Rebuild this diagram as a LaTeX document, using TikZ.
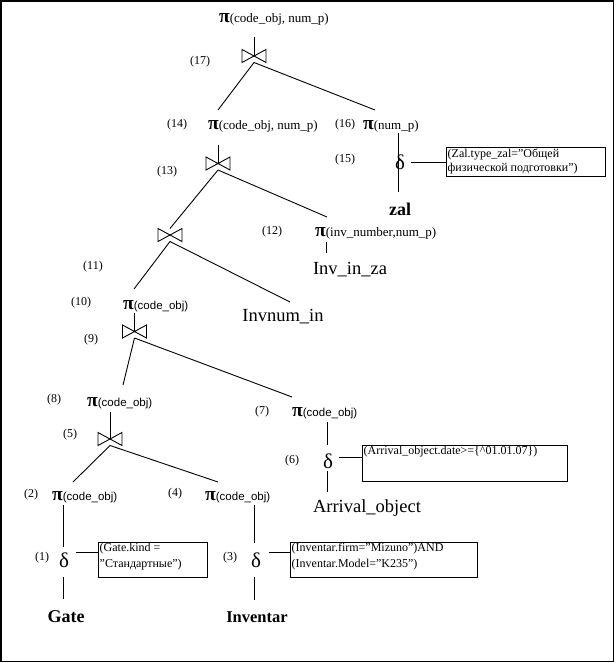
\documentclass[tikz,border=0pt]{standalone}
\usepackage{fontspec}
\setmainfont{Liberation Serif}
\newfontfamily\sansf{Liberation Sans}
\newcommand\pis{{\bfseries\fontsize{19.5}{19.5}\selectfont π}}
\newcommand\sarg[1]{{\fontsize{13}{15}\selectfont #1}}
\newcommand\sfarg[1]{{\sansf\fontsize{11.5}{14}\selectfont #1}}
\tikzset{
  ln/.style={line width=0.9pt},
  num/.style={font=\fontsize{12}{14}\selectfont, inner sep=0pt},
  pin/.style={anchor=west, inner sep=0pt},
  rel/.style={font=\fontsize{18.5}{20}\selectfont, inner sep=0pt},
  relb/.style={font=\bfseries\fontsize{18}{20}\selectfont, inner sep=0pt},
  dl/.style={font=\fontsize{21}{22}\selectfont, inner sep=0pt},
  bt/.style={minimum width=24pt, minimum height=13pt, inner sep=0pt, outer sep=0pt},
  cbox/.style={draw, line width=0.9pt, anchor=north west, inner sep=0pt, outer sep=0pt},
  ctext/.style={anchor=north west, inner sep=0pt, align=left, font=\fontsize{12}{15.5}\selectfont}
}
\begin{document}
\begin{tikzpicture}[x=1pt,y=-1pt]
\useasboundingbox (0,0) rectangle (615,663);
\draw[line width=1.6pt] (1,1) rectangle (613.5,661.5);

% projection nodes
\node[pin] (P17) at (219,19) {\pis\sarg{(code\_obj, num\_p)}};
\node[pin] (P14) at (208,126) {\pis\sarg{(code\_obj, num\_p)}};
\node[pin] (P16) at (363,126) {\pis\sarg{(num\_p)}};
\node[pin] (P12) at (315,233) {\pis\sarg{(inv\_number,num\_p)}};
\node[pin] (P10) at (123,306) {\pis\sfarg{(code\_obj)}};
\node[pin] (P8) at (87,403) {\pis\sfarg{(code\_obj)}};
\node[pin] (P7) at (292,413) {\pis\sfarg{(code\_obj)}};
\node[pin] (P2) at (52,497) {\pis\sfarg{(code\_obj)}};
\node[pin] (P4) at (205,497) {\pis\sfarg{(code\_obj)}};

% step numbers
\node[num] (L17) at (200,62) {(17)};
\node[num] (L14) at (177,125) {(14)};
\node[num] (L16) at (345,125) {(16)};
\node[num] (L13) at (167,172) {(13)};
\node[num] (L15) at (345,160) {(15)};
\node[num] (L12) at (272,232) {(12)};
\node[num] (L11) at (93,267) {(11)};
\node[num] (L10) at (81,303) {(10)};
\node[num] (L9) at (91,340) {(9)};
\node[num] (L8) at (54,400) {(8)};
\node[num] (L7) at (262,412) {(7)};
\node[num] (L5) at (70,435) {(5)};
\node[num] (L6) at (292,461) {(6)};
\node[num] (L2) at (31,495) {(2)};
\node[num] (L4) at (175,494) {(4)};
\node[num] (L1) at (42,558) {(1)};
\node[num] (L3) at (230,558) {(3)};

% joins
\node[bt] (B17) at (254,56) {};
\node[bt] (B13) at (218,163.5) {};
\node[bt] (B11) at (170,235) {};
\node[bt] (B9) at (134.5,331.5) {};
\node[bt] (B5) at (110,439) {};
\foreach \b in {B17,B13,B11,B9,B5}
  \draw[ln] (\b.north west) -- (\b.south west) -- (\b.north east) -- (\b.south east) -- cycle;

% selections
\node[dl] (D15) at (400,162) {δ};
\node[dl] (D6) at (328,461) {δ};
\node[dl] (D1) at (64,560) {δ};
\node[dl] (D3) at (256,560) {δ};

% relations
\node[relb] (Rzal) at (400,209) {zal};
\node[rel] (Rinvza) at (350,270) {Inv\_in\_za};
\node[rel] (Rinvnum) at (283,317) {Invnum\_in};
\node[rel] (Rarr) at (367,508) {Arrival\_object};
\node[relb] (Rgate) at (66,617) {Gate};
\node[relb, font=\bfseries\fontsize{16.5}{20}\selectfont] (Rinv) at (257,617) {Inventar};

% condition boxes
\node[cbox, minimum width=159pt, minimum height=29pt] (C15) at (446,147) {};
\node[ctext, font=\fontsize{12}{14}\selectfont] (T15) at (447.5,148.5) {(Zal.type\_zal=”Общей\\физической подготовки”)};
\node[cbox, minimum width=205pt, minimum height=36pt] (C6) at (362,445) {};
\node[ctext] (T6) at (363.5,446) {(Arrival\_object.date>=\{\textasciicircum01.01.07\})};
\node[cbox, minimum width=109pt, minimum height=35pt] (C1) at (98,542) {};
\node[ctext] (T1) at (99.5,543) {(Gate.kind =\\”Стандартные”)};
\node[cbox, minimum width=187pt, minimum height=35pt] (C3) at (290,542) {};
\node[ctext] (T3) at (291.5,543) {(Inventar.firm=”Mizuno”)AND\\(Inventar.Model=”K235”)};

% connector end points
\coordinate (a17) at (254,37);
\coordinate (e14) at (218,110);
\coordinate (e16) at (375,110);
\coordinate (a14) at (218,145);
\coordinate (e12) at (327,217);
\coordinate (e10) at (134,289);
\coordinate (e11) at (290,302);
\coordinate (a10) at (134.5,313);
\coordinate (e8) at (123,385);
\coordinate (e7) at (292,397);
\coordinate (a8) at (110,412);
\coordinate (e2) at (73,482);
\coordinate (e4) at (218,482);
\coordinate (a16) at (398,133);
\coordinate (b16) at (398,192);
\coordinate (s15) at (411,162);
\coordinate (a12) at (326,242);
\coordinate (b12) at (326,253);
\coordinate (a7) at (327,422);
\coordinate (b7) at (327,445);
\coordinate (c6) at (327,471);
\coordinate (d6) at (327,492);
\coordinate (s6) at (339,457);
\coordinate (a2) at (63,505);
\coordinate (b2) at (63,547);
\coordinate (c1) at (63,577);
\coordinate (d1) at (63,599);
\coordinate (s1) at (76,552);
\coordinate (a4) at (254,505);
\coordinate (b4) at (254,543);
\coordinate (c3) at (254,577);
\coordinate (d3) at (254,600);
\coordinate (s3) at (269,552);

% connectors
\draw[ln] (a17) -- (B17.center);
\draw[ln] (B17.south) -- (e14);
\draw[ln] (B17.south) -- (e16);
\draw[ln] (a14) -- (B13.center);
\draw[ln] (B13.south) -- (B11.north);
\draw[ln] (B13.south) -- (e12);
\draw[ln] (B11.south) -- (e10);
\draw[ln] (B11.south) -- (e11);
\draw[ln] (a10) -- (B9.center);
\draw[ln] (B9.south) -- (e8);
\draw[ln] (B9.south) -- (e7);
\draw[ln] (a8) -- (B5.center);
\draw[ln] (B5.south) -- (e2);
\draw[ln] (B5.south) -- (e4);
\draw[ln] (a16) -- (b16);
\draw[ln] (s15) -- (s15 -| C15.west);
\draw[ln] (a12) -- (b12);
\draw[ln] (a7) -- (b7);
\draw[ln] (c6) -- (d6);
\draw[ln] (s6) -- (s6 -| C6.west);
\draw[ln] (a2) -- (b2);
\draw[ln] (c1) -- (d1);
\draw[ln] (s1) -- (s1 -| C1.west);
\draw[ln] (a4) -- (b4);
\draw[ln] (c3) -- (d3);
\draw[ln] (s3) -- (s3 -| C3.west);
\end{tikzpicture}
\end{document}
